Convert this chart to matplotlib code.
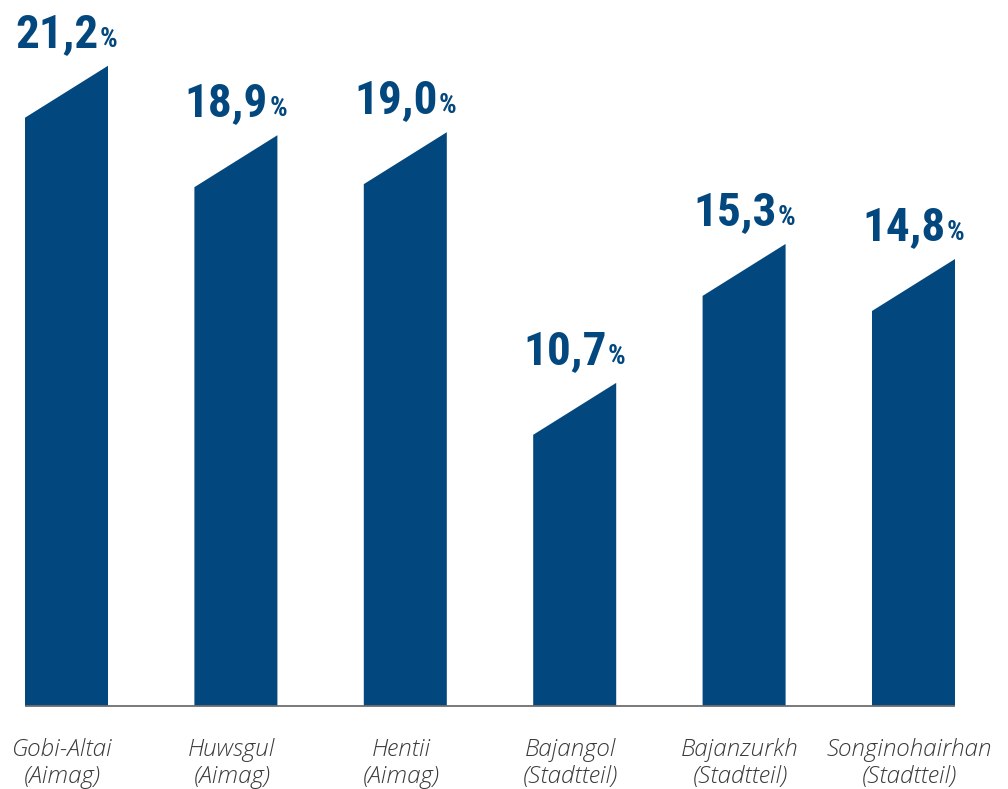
import matplotlib
matplotlib.use("Agg")
import matplotlib.pyplot as plt
from matplotlib import font_manager
from matplotlib.patches import Polygon
from matplotlib.transforms import offset_copy

# Share of the population (%) per region
regions = ["Gobi-Altai", "Huwsgul", "Hentii", "Bajangol", "Bajanzurkh", "Songinohairhan"]
region_types = ["(Aimag)", "(Aimag)", "(Aimag)", "(Stadtteil)", "(Stadtteil)", "(Stadtteil)"]
values = [21.2, 18.9, 19.0, 10.7, 15.3, 14.8]

BLUE = "#03477f"
TEXT_GREY = "#3a3a3a"


def condensed_bold():
    """Pick the narrowest bold sans family that is installed."""
    names = {f.name for f in font_manager.fontManager.ttflist}
    for fam in ["Roboto Condensed", "Open Sans Condensed", "Liberation Sans Narrow",
                "DejaVu Sans Condensed", "Noto Sans Condensed"]:
        if fam in names:
            return dict(family=[fam, "DejaVu Sans"], stretch="normal")
    for f in font_manager.fontManager.ttflist:
        if f.name == "DejaVu Sans" and "condensed" in str(f.stretch):
            return dict(family=["DejaVu Sans"], stretch="condensed")
    return dict(family=["Roboto", "DejaVu Sans"], stretch="normal")


fig = plt.figure(figsize=(10.08, 7.89), dpi=100)
ax = fig.add_axes([0, 83 / 789, 1, 706 / 789])
px_per_unit = 30.2
ax.set_xlim(-66.5 / 169.4, (1008 - 66.5) / 169.4)
ax.set_ylim(0, 706 / px_per_unit)
ax.axis("off")

bar_width = 0.49
slant = 1.72  # drop of the left top corner, in percentage points

for i, v in enumerate(values):
    x0, x1 = i - bar_width / 2, i + bar_width / 2
    ax.add_patch(Polygon([(x0, 0), (x1, 0), (x1, v), (x0, v - slant)],
                         closed=True, facecolor=BLUE, edgecolor="none", zorder=2))

# baseline
ax.plot([-bar_width / 2, len(values) - 1 + bar_width / 2], [0, 0],
        color="#6e6e6e", lw=1.3, solid_capstyle="butt", zorder=3, clip_on=False)

# category labels under the bars
cat_font = dict(family=["Open Sans", "DejaVu Sans"], style="italic", weight="light",
                fontsize=17.5, color=TEXT_GREY, ha="center", va="baseline")
for i, (name, kind) in enumerate(zip(regions, region_types)):
    t1 = offset_copy(ax.transData, fig=fig, x=-4, y=-50, units="dots")
    t2 = offset_copy(ax.transData, fig=fig, x=-4, y=-77, units="dots")
    ax.text(i, 0, name, transform=t1, clip_on=False, **cat_font)
    ax.text(i, 0, kind, transform=t2, clip_on=False, **cat_font)

# value labels: large number followed by a small percent sign
bold_font = condensed_bold()
num_font = dict(bold_font, weight="bold", fontsize=34, color=BLUE, va="baseline")
pct_font = dict(bold_font, weight="bold", fontsize=20, color=BLUE, va="baseline")

renderer = fig.canvas.get_renderer()
for i, v in enumerate(values):
    num = f"{v:.1f}".replace(".", ",")
    tn = ax.text(0, 0, num, **num_font)
    tp = ax.text(0, 0, "%", **pct_font)
    wn = tn.get_window_extent(renderer).width
    wp = tp.get_window_extent(renderer).width
    total = wn + 1 + wp
    tn.remove()
    tp.remove()
    tr_n = offset_copy(ax.transData, fig=fig, x=-total / 2, y=19, units="dots")
    tr_p = offset_copy(ax.transData, fig=fig, x=-total / 2 + wn + 1, y=19, units="dots")
    ax.text(i, v, num, transform=tr_n, ha="left", clip_on=False, **num_font)
    ax.text(i, v, "%", transform=tr_p, ha="left", clip_on=False, **pct_font)

fig.savefig("out.png", dpi=100, facecolor="white")
